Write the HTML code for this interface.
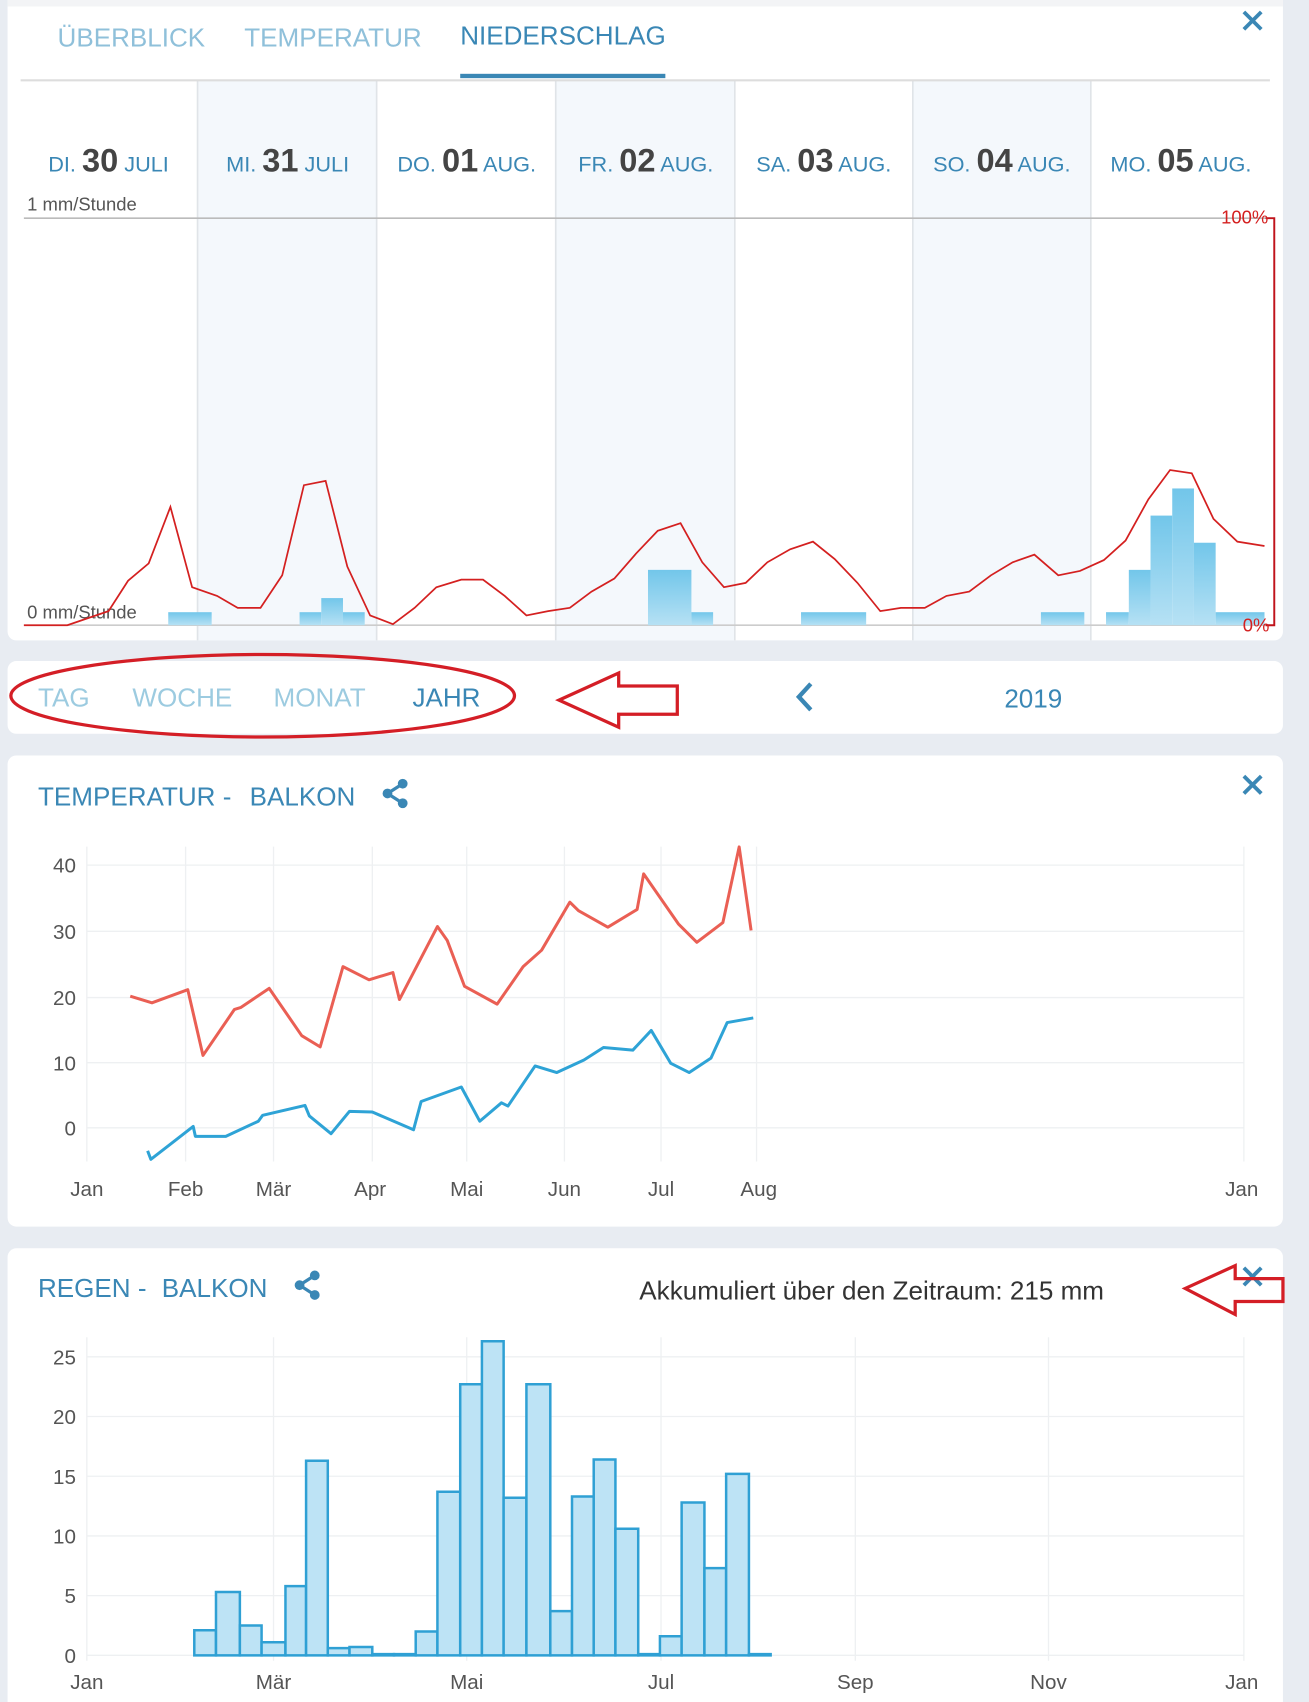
<!DOCTYPE html>
<html><head><meta charset="utf-8"><style>
html,body{margin:0;padding:0;background:#e8ecf2;}
svg{display:block}
text{font-family:"Liberation Sans",sans-serif;}
</style></head><body>
<svg width="1309" height="1702" viewBox="0 0 1206 1568" preserveAspectRatio="none" xmlns="http://www.w3.org/2000/svg">
<rect width="1206" height="1568" fill="#e8ecf2"/>
<!-- Panel 1 -->
<rect x="7" y="-10" width="1175" height="600" rx="8" fill="#fff"/>
<rect x="7" y="0" width="1175" height="6" fill="#f3f4f6"/>
<rect x="182" y="74" width="165" height="516" fill="#f4f8fc"/>
<rect x="512" y="74" width="165" height="516" fill="#f4f8fc"/>
<rect x="841" y="74" width="164" height="516" fill="#f4f8fc"/>
<g stroke="#e0e4e8" stroke-width="1.5">
<line x1="182" y1="74" x2="182" y2="590"/><line x1="347" y1="74" x2="347" y2="590"/>
<line x1="512" y1="74" x2="512" y2="590"/><line x1="677" y1="74" x2="677" y2="590"/>
<line x1="841" y1="74" x2="841" y2="590"/><line x1="1005" y1="74" x2="1005" y2="590"/>
</g>
<g font-size="24">
<text x="53" y="43" fill="#8fc0da">ÜBERBLICK</text>
<text x="225" y="43" fill="#8fc0da">TEMPERATUR</text>
<text x="424" y="41" fill="#3a87b5">NIEDERSCHLAG</text>
</g>
<rect x="424" y="68" width="189" height="4" fill="#3a87b5"/>
<line x1="19" y1="74" x2="1170" y2="74" stroke="#ddd" stroke-width="2"/>
<g stroke="#3a87b5" stroke-width="3.5"><line x1="1146" y1="11" x2="1162" y2="27"/><line x1="1162" y1="11" x2="1146" y2="27"/></g>
<g font-size="20" fill="#3a87b5" text-anchor="middle">
<text x="100" y="158">DI. <tspan font-size="30" font-weight="bold" fill="#444">30</tspan> JULI</text>
<text x="265" y="158">MI. <tspan font-size="30" font-weight="bold" fill="#444">31</tspan> JULI</text>
<text x="430" y="158">DO. <tspan font-size="30" font-weight="bold" fill="#444">01</tspan> AUG.</text>
<text x="595" y="158">FR. <tspan font-size="30" font-weight="bold" fill="#444">02</tspan> AUG.</text>
<text x="759" y="158">SA. <tspan font-size="30" font-weight="bold" fill="#444">03</tspan> AUG.</text>
<text x="923" y="158">SO. <tspan font-size="30" font-weight="bold" fill="#444">04</tspan> AUG.</text>
<text x="1088" y="158">MO. <tspan font-size="30" font-weight="bold" fill="#444">05</tspan> AUG.</text>
</g>
<text x="25" y="194" font-size="17" fill="#555">1 mm/Stunde</text>
<line x1="22" y1="201" x2="1170" y2="201" stroke="#bbb" stroke-width="1.5"/>
<line x1="22" y1="576" x2="1170" y2="576" stroke="#ccc" stroke-width="1.5"/>
<defs><linearGradient id="bg" x1="0" y1="0" x2="0" y2="1"><stop offset="0" stop-color="#72c6ea"/><stop offset="1" stop-color="#b6e1f4"/></linearGradient></defs>
<g fill="url(#bg)">
<rect x="155" y="564" width="40" height="12"/>
<rect x="276" y="564" width="20" height="12"/><rect x="296" y="551" width="20" height="25"/><rect x="316" y="564" width="20" height="12"/>
<rect x="597" y="525" width="40" height="51"/><rect x="637" y="564" width="20" height="12"/>
<rect x="738" y="564" width="60" height="12"/><rect x="959" y="564" width="40" height="12"/>
<rect x="1019" y="564" width="21" height="12"/><rect x="1040" y="525" width="20" height="51"/>
<rect x="1060" y="475" width="20" height="101"/><rect x="1080" y="450" width="20" height="126"/>
<rect x="1100" y="500" width="20" height="76"/><rect x="1120" y="564" width="45" height="12"/>
</g>
<text x="25" y="570" font-size="17" fill="#555">0 mm/Stunde</text>
<polyline fill="none" stroke="#d42020" stroke-width="1.6" points="22,576 62,576 100,563 118,535 137,519 157,467 177,541 200,549 219,560 240,560 260,530 280,447 300,443 320,522 341,567 362,575 382,560 402,541 425,534 445,534 465,549 485,567 505,563 525,560 545,545 566,533 586,510 606,489 627,482 647,518 667,541 687,537 707,518 728,506 749,499 769,515 790,537 811,563 830,560 852,560 872,549 893,545 913,530 933,518 953,511 975,530 995,526 1017,516 1037,498 1058,460 1078,433 1098,436 1118,478 1140,499 1165,503"/>
<g stroke="#c0141c" stroke-width="1.8" fill="none"><polyline points="1166,201 1174,201 1174,576 1166,576"/></g>
<text x="1125" y="206" font-size="17" fill="#d42020">100%</text>
<text x="1145" y="582" font-size="17" fill="#d42020">0%</text>
<!-- Panel 2 -->
<rect x="7" y="609" width="1175" height="67" rx="8" fill="#fff"/>
<g font-size="24">
<text x="35" y="651" fill="#9ccbe0">TAG</text>
<text x="122" y="651" fill="#9ccbe0">WOCHE</text>
<text x="252" y="651" fill="#9ccbe0">MONAT</text>
<text x="380" y="651" fill="#3a87b5">JAHR</text>
<text x="952" y="652" fill="#3a87b5" text-anchor="middle">2019</text>
</g>
<ellipse cx="242" cy="641" rx="232" ry="38" fill="none" stroke="#d41e26" stroke-width="3"/>
<polygon points="515,645 570,620 570,632 624,632 624,658 570,658 570,670" fill="none" stroke="#d41e26" stroke-width="3"/>
<polyline points="747,630 736,642 747,654" fill="none" stroke="#3a87b5" stroke-width="4"/>
<!-- Panel 3 -->
<rect x="7" y="696" width="1175" height="434" rx="8" fill="#fff"/>
<text x="35" y="742" font-size="24" fill="#3a87b5">TEMPERATUR -</text>
<text x="230" y="742" font-size="24" fill="#3a87b5">BALKON</text>
<g fill="#3a87b5"><circle cx="371" cy="722" r="4.5"/><circle cx="357" cy="731" r="4.5"/><circle cx="371" cy="740" r="4.5"/><polyline points="371,722 357,731 371,740" fill="none" stroke="#3a87b5" stroke-width="3"/></g>
<g stroke="#3a87b5" stroke-width="3.5"><line x1="1146" y1="715" x2="1162" y2="731"/><line x1="1162" y1="715" x2="1146" y2="731"/></g>
<g stroke="#eef0f2" stroke-width="1.2">
<line x1="80" y1="797" x2="1146" y2="797"/><line x1="80" y1="858" x2="1146" y2="858"/><line x1="80" y1="919" x2="1146" y2="919"/><line x1="80" y1="979" x2="1146" y2="979"/><line x1="80" y1="1039" x2="1146" y2="1039"/>
<line x1="80" y1="780" x2="80" y2="1070"/><line x1="171" y1="780" x2="171" y2="1070"/><line x1="252" y1="780" x2="252" y2="1070"/><line x1="343" y1="780" x2="343" y2="1070"/><line x1="430" y1="780" x2="430" y2="1070"/><line x1="520" y1="780" x2="520" y2="1070"/><line x1="609" y1="780" x2="609" y2="1070"/><line x1="697" y1="780" x2="697" y2="1070"/><line x1="1146" y1="780" x2="1146" y2="1070"/>
</g>
<g font-size="19" fill="#555" text-anchor="end">
<text x="70" y="804">40</text><text x="70" y="865">30</text><text x="70" y="926">20</text><text x="70" y="986">10</text><text x="70" y="1046">0</text>
</g>
<g font-size="19" fill="#555" text-anchor="middle">
<text x="80" y="1102">Jan</text><text x="171" y="1102">Feb</text><text x="252" y="1102">Mär</text><text x="341" y="1102">Apr</text><text x="430" y="1102">Mai</text><text x="520" y="1102">Jun</text><text x="609" y="1102">Jul</text><text x="699" y="1102">Aug</text><text x="1144" y="1102">Jan</text>
</g>
<g transform="translate(0,1039) scale(1,-6.06)">
<polyline fill="none" stroke="#ea5f54" stroke-width="3" vector-effect="non-scaling-stroke" stroke-linejoin="round" points="120,20 140,19 173,21 187,11 216,18 222,18.3 248,21.2 278,14 295,12.3 316,24.5 340,22.5 362,23.6 368,19.5 403,30.6 412,28.5 428,21.5 458,18.8 482,24.5 499,27 525,34.3 533,33 560,30.5 587,33.2 593,38.6 625,31 642,28.2 666,31.2 681,42.7 692,30"/>
<polyline fill="none" stroke="#2ea3d6" stroke-width="3" vector-effect="non-scaling-stroke" stroke-linejoin="round" points="136,-3.5 139,-4.8 178,0.2 180,-1.3 208,-1.3 238,1 242,1.9 281,3.4 285,1.8 305,-0.9 322,2.5 343,2.4 381,-0.3 388,4 425,6.2 442,1 462,3.8 468,3.3 493,9.4 513,8.4 538,10.3 556,12.2 583,11.8 600,14.8 618,9.8 635,8.4 655,10.6 670,16 694,16.7"/>
</g>
<!-- Panel 4 -->
<rect x="7" y="1150" width="1175" height="430" rx="8" fill="#fff"/>
<text x="35" y="1195" font-size="24" fill="#3a87b5">REGEN -</text>
<text x="149" y="1195" font-size="24" fill="#3a87b5">BALKON</text>
<g fill="#3a87b5"><circle cx="290" cy="1175" r="4.5"/><circle cx="276" cy="1184" r="4.5"/><circle cx="290" cy="1193" r="4.5"/><polyline points="290,1175 276,1184 290,1193" fill="none" stroke="#3a87b5" stroke-width="3"/></g>
<g stroke="#3a87b5" stroke-width="3.5"><line x1="1146" y1="1168" x2="1162" y2="1184"/><line x1="1162" y1="1168" x2="1146" y2="1184"/></g>
<text x="589" y="1197" font-size="24" fill="#333">Akkumuliert über den Zeitraum: 215 mm</text>
<polygon points="1092,1187 1138,1166 1138,1178 1182,1178 1182,1199 1138,1199 1138,1211" fill="none" stroke="#d41e26" stroke-width="3"/>
<g stroke="#eef0f2" stroke-width="1.2">
<line x1="80" y1="1250" x2="1146" y2="1250"/><line x1="80" y1="1305" x2="1146" y2="1305"/><line x1="80" y1="1360" x2="1146" y2="1360"/><line x1="80" y1="1415" x2="1146" y2="1415"/><line x1="80" y1="1470" x2="1146" y2="1470"/><line x1="80" y1="1525" x2="1146" y2="1525"/>
<line x1="80" y1="1232" x2="80" y2="1530"/><line x1="252" y1="1232" x2="252" y2="1530"/><line x1="430" y1="1232" x2="430" y2="1530"/><line x1="609" y1="1232" x2="609" y2="1530"/><line x1="788" y1="1232" x2="788" y2="1530"/><line x1="966" y1="1232" x2="966" y2="1530"/><line x1="1146" y1="1232" x2="1146" y2="1530"/>
</g>
<g font-size="19" fill="#555" text-anchor="end">
<text x="70" y="1257">25</text><text x="70" y="1312">20</text><text x="70" y="1367">15</text><text x="70" y="1422">10</text><text x="70" y="1477">5</text><text x="70" y="1532">0</text>
</g>
<g font-size="19" fill="#555" text-anchor="middle">
<text x="80" y="1556">Jan</text><text x="252" y="1556">Mär</text><text x="430" y="1556">Mai</text><text x="609" y="1556">Jul</text><text x="788" y="1556">Sep</text><text x="966" y="1556">Nov</text><text x="1144" y="1556">Jan</text>
</g>
<g transform="translate(0,1525) scale(1,-11)" fill="#bde3f5" stroke="#2fa0d4" stroke-width="2.5">
<rect x="179" y="0" width="20" height="2.1" vector-effect="non-scaling-stroke"/>
<rect x="199" y="0" width="22" height="5.3" vector-effect="non-scaling-stroke"/>
<rect x="221" y="0" width="20" height="2.5" vector-effect="non-scaling-stroke"/>
<rect x="241" y="0" width="22" height="1.1" vector-effect="non-scaling-stroke"/>
<rect x="263" y="0" width="19" height="5.8" vector-effect="non-scaling-stroke"/>
<rect x="282" y="0" width="20" height="16.3" vector-effect="non-scaling-stroke"/>
<rect x="302" y="0" width="20" height="0.6" vector-effect="non-scaling-stroke"/>
<rect x="322" y="0" width="21" height="0.7" vector-effect="non-scaling-stroke"/>
<rect x="343" y="0" width="20" height="0.1" vector-effect="non-scaling-stroke"/>
<rect x="363" y="0" width="20" height="0.1" vector-effect="non-scaling-stroke"/>
<rect x="383" y="0" width="20" height="2" vector-effect="non-scaling-stroke"/>
<rect x="403" y="0" width="21" height="13.7" vector-effect="non-scaling-stroke"/>
<rect x="424" y="0" width="20" height="22.7" vector-effect="non-scaling-stroke"/>
<rect x="444" y="0" width="20" height="26.3" vector-effect="non-scaling-stroke"/>
<rect x="464" y="0" width="21" height="13.2" vector-effect="non-scaling-stroke"/>
<rect x="485" y="0" width="22" height="22.7" vector-effect="non-scaling-stroke"/>
<rect x="507" y="0" width="20" height="3.7" vector-effect="non-scaling-stroke"/>
<rect x="527" y="0" width="20" height="13.3" vector-effect="non-scaling-stroke"/>
<rect x="547" y="0" width="20" height="16.4" vector-effect="non-scaling-stroke"/>
<rect x="567" y="0" width="21" height="10.6" vector-effect="non-scaling-stroke"/>
<rect x="588" y="0" width="20" height="0.1" vector-effect="non-scaling-stroke"/>
<rect x="608" y="0" width="20" height="1.6" vector-effect="non-scaling-stroke"/>
<rect x="628" y="0" width="21" height="12.8" vector-effect="non-scaling-stroke"/>
<rect x="649" y="0" width="20" height="7.3" vector-effect="non-scaling-stroke"/>
<rect x="669" y="0" width="21" height="15.2" vector-effect="non-scaling-stroke"/>
<rect x="690" y="0" width="20" height="0.1" vector-effect="non-scaling-stroke"/>
</g>
</svg>
</body></html>
